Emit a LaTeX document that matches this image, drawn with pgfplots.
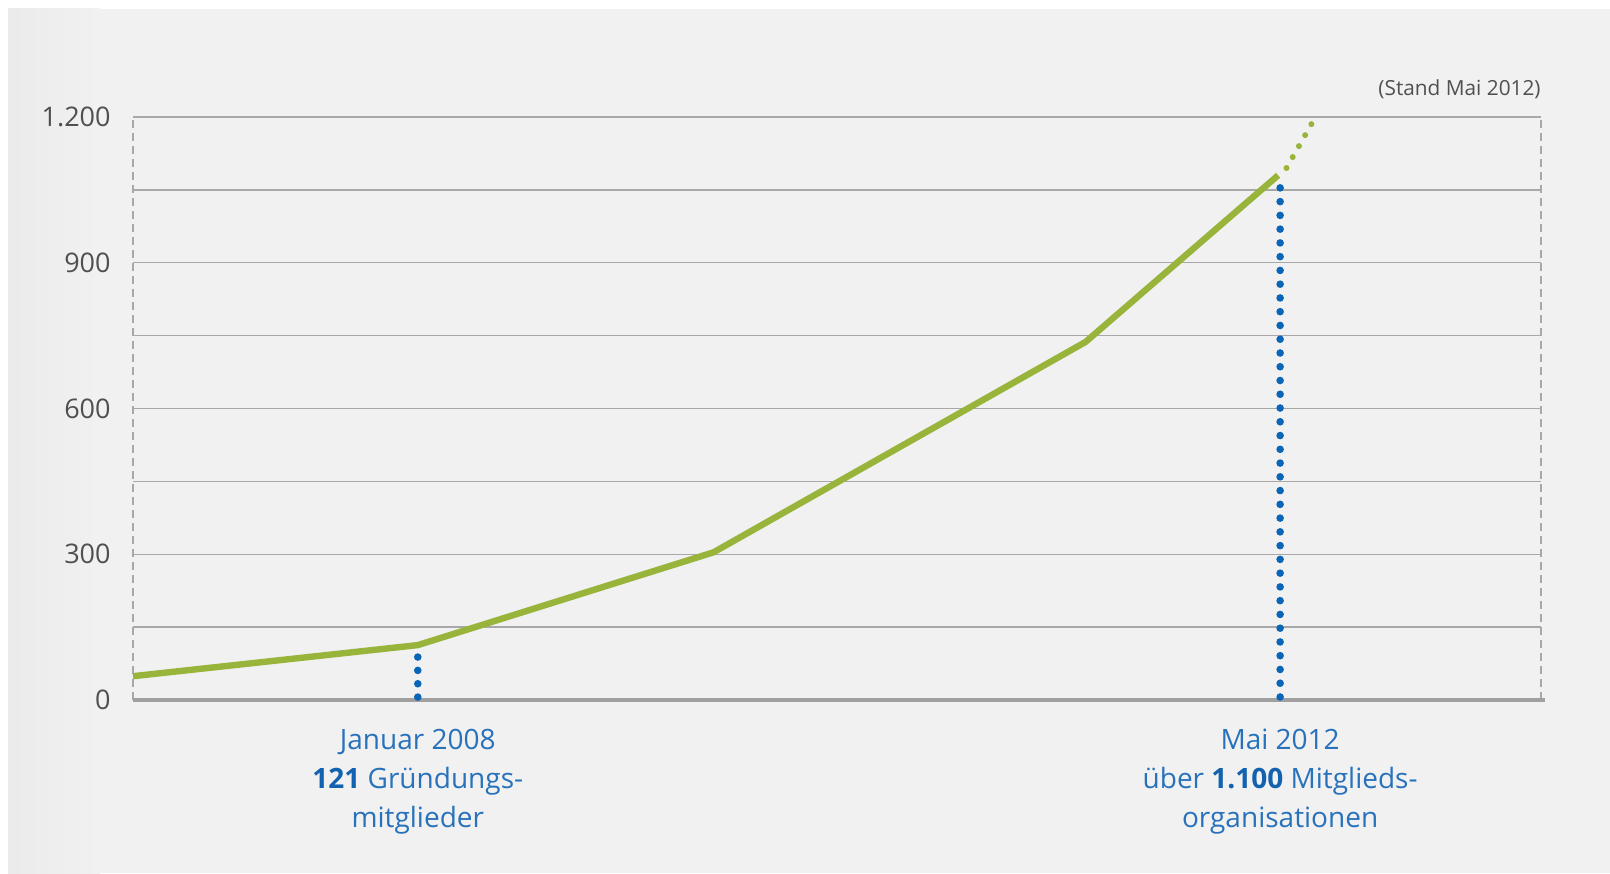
\documentclass[border=0pt]{standalone}
\usepackage{fontspec}
\setmainfont{Open Sans}
\usepackage{pgfplots}
\pgfplotsset{compat=1.18}
\definecolor{bg}{HTML}{F1F1F1}
\definecolor{gridc}{HTML}{A8A8A8}
\definecolor{axisc}{HTML}{A0A0A0}
\definecolor{lgreen}{HTML}{99B43B}
\definecolor{dblue}{HTML}{0B65B7}
\definecolor{tblue}{HTML}{2872BC}
\definecolor{bblue}{HTML}{1262B0}
\definecolor{tgray}{HTML}{505050}
\begin{document}
\begin{tikzpicture}[x=1pt,y=1pt]
\fill[white] (0,0) rectangle (805,436.5);
\fill[bg] (4,0) rectangle (805,432);
\shade[left color=black!8, right color=bg] (4,0) rectangle (50,432);
\useasboundingbox (0,0) rectangle (805,436.5);
\begin{axis}[
  at={(66.5pt,86.5pt)}, anchor=south west, scale only axis,
  width=704pt, height=291.5pt,
  xmin=2006.57, xmax=2013.64, ymin=0, ymax=1200,
  axis line style={draw=none},
  clip=false,
  xtick=\empty,
  ytick={0,150,...,1200},
  yticklabels={0,,300,,600,,900,,1.200},
  major tick length=0pt,
  ymajorgrids,
  major grid style={gridc, line width=0.65pt},
  /pgf/number format/assume math mode=true,
  yticklabel style={font=\fontsize{13.5}{16}\selectfont, text=tgray, inner sep=0pt, xshift=-11pt},
]
\draw[gridc, line width=0.6pt, dash pattern=on 4pt off 2.5pt] (rel axis cs:0,0) -- (rel axis cs:0,1);
\draw[gridc, line width=0.6pt, dash pattern=on 4pt off 2.5pt] (rel axis cs:1,0) -- (rel axis cs:1,1);
\draw[axisc, line width=2.3pt] (rel axis cs:0,0) -- ([xshift=2pt]rel axis cs:1,0);

\addplot[lgreen, line width=3.2pt, line join=round] coordinates {(2006.57,49) (2008.0,113) (2009.485,304) (2011.353,737) (2012.32,1080)};
\addplot[lgreen, line width=3pt, line cap=round, dash pattern=on 0pt off 6.3pt] coordinates {(2012.362,1095) (2012.488,1186)};

\addplot[dblue, line width=3.8pt, line cap=round, dash pattern=on 0pt off 6.67pt] coordinates {(2008,6) (2008,89.5)};
\addplot[dblue, line width=3.8pt, line cap=round, dash pattern=on 0pt off 6.88pt] coordinates {(2012.33,6.2) (2012.33,1055)};

\node[anchor=east, text=tgray, font=\fontsize{10.4}{12}\selectfont, inner sep=0pt] at ([yshift=14pt]rel axis cs:1,1) {(Stand Mai 2012)};

\node[anchor=base, text=tblue, font=\fontsize{14}{16}\selectfont, inner sep=0pt] at ([yshift=-24.5pt]axis cs:2008,0) {Januar 2008};
\node[anchor=base, text=tblue, font=\fontsize{14}{16}\selectfont, inner sep=0pt] at ([yshift=-44pt]axis cs:2008,0) {\textcolor{bblue}{\textbf{121}} Gründungs-};
\node[anchor=base, text=tblue, font=\fontsize{14}{16}\selectfont, inner sep=0pt] at ([yshift=-63.5pt]axis cs:2008,0) {mitglieder};

\node[anchor=base, text=tblue, font=\fontsize{14}{16}\selectfont, inner sep=0pt] at ([yshift=-24.5pt]axis cs:2012.33,0) {Mai 2012};
\node[anchor=base, text=tblue, font=\fontsize{14}{16}\selectfont, inner sep=0pt] at ([yshift=-44pt]axis cs:2012.33,0) {über \textcolor{bblue}{\textbf{1.100}} Mitglieds-};
\node[anchor=base, text=tblue, font=\fontsize{14}{16}\selectfont, inner sep=0pt] at ([yshift=-63.5pt]axis cs:2012.33,0) {organisationen};
\end{axis}
\end{tikzpicture}
\end{document}
